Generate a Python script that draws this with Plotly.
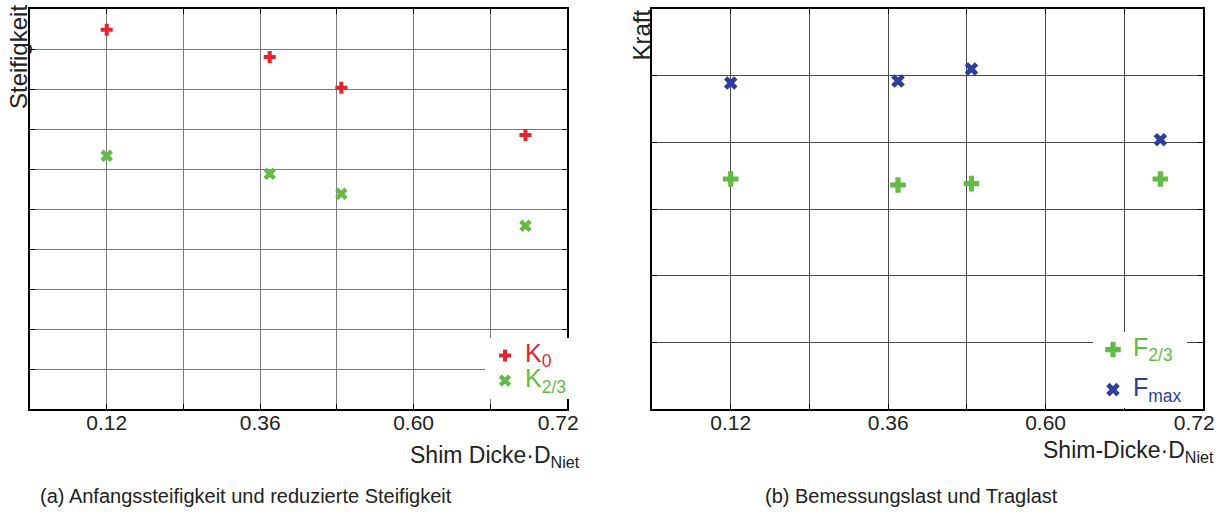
import plotly.graph_objects as go

# ---- data ----
shim = [0.12, 0.375, 0.487, 0.775]          # position on the shim-thickness axis
K0 = [9.48, 8.80, 8.03, 6.85]               # initial stiffness
K23 = [6.33, 5.88, 5.38, 4.58]              # reduced stiffness
F23 = [3.45, 3.36, 3.38, 3.45]              # design load
Fmax = [4.89, 4.92, 5.10, 4.04]             # ultimate load

x_tickvals = [0.12, 0.24, 0.36, 0.48, 0.60, 0.72, 0.84]
x_ticktext = ["0.12", "", "0.36", "", "0.60", "", "0.72\u00a0\u00a0\u00a0"]

RED = "#e3262b"
GREEN = "#63bb47"
BLUE = "#2b3f9b"
FONT = "Liberation Sans, Arial, sans-serif"
TXT = "#222222"

W, H = 1221, 517


def lname(main, sub, color):
    return (f"<span style='color:{color};font-size:25px'>{main}"
            f"<sub>{sub}</sub></span>")


fig = go.Figure()

fig.add_trace(go.Scatter(x=shim, y=K0, mode="markers", name=lname("K", "0", RED),
                         marker=dict(symbol="cross", size=10, color=RED),
                         xaxis="x", yaxis="y", legend="legend", legendgroup="a"))
fig.add_trace(go.Scatter(x=shim, y=K23, mode="markers", name=lname("K", "2/3", GREEN),
                         marker=dict(symbol="x", size=11, color=GREEN),
                         xaxis="x", yaxis="y", legend="legend", legendgroup="b"))
fig.add_trace(go.Scatter(x=shim, y=F23, mode="markers", name=lname("F", "2/3", GREEN),
                         marker=dict(symbol="cross", size=13, color=GREEN),
                         xaxis="x2", yaxis="y2", legend="legend2", legendgroup="c"))
fig.add_trace(go.Scatter(x=shim, y=Fmax, mode="markers", name=lname("F", "max", BLUE),
                         marker=dict(symbol="x", size=12, color=BLUE),
                         xaxis="x2", yaxis="y2", legend="legend2", legendgroup="d"))


def xax(domain, grid):
    return dict(domain=domain, range=[0, 0.84], tickmode="array", tickvals=x_tickvals, ticktext=x_ticktext,
                showgrid=True, gridcolor=grid, gridwidth=1, zeroline=False,
                showline=True, linecolor="black", linewidth=2, mirror="ticks",
                ticks="inside", ticklen=5, tickcolor="black", tickwidth=1, ticklabelstandoff=-6,
                ticklabeloverflow="allow",
                tickfont=dict(family=FONT, size=21, color=TXT), fixedrange=True)


def yax(domain, top, grid, anchor):
    return dict(domain=domain, range=[0, top], tickmode="linear", tick0=0, dtick=1,
                showticklabels=False, showgrid=True, gridcolor=grid, gridwidth=1, zeroline=False,
                showline=True, linecolor="black", linewidth=2, mirror="ticks",
                ticks="inside", ticklen=5, tickcolor="black", tickwidth=1, anchor=anchor, fixedrange=True)


ydom = [(H - 409) / H, (H - 9) / H]

annotations = [
    dict(text="Steifigkeit", textangle=-90, x=18 / W, y=(H - 3) / H, xref="paper", yref="paper",
         xanchor="center", yanchor="top", showarrow=False, font=dict(family=FONT, size=24, color=TXT)),
    dict(text="Kraft", textangle=-90, x=641 / W, y=(H - 8) / H, xref="paper", yref="paper",
         xanchor="center", yanchor="top", showarrow=False, font=dict(family=FONT, size=24, color=TXT)),
    dict(text="Shim Dicke·D<sub>Niet</sub>", x=582 / W, y=(H - 440) / H, xref="paper", yref="paper",
         xanchor="right", yanchor="top", showarrow=False, font=dict(family=FONT, size=23, color=TXT)),
    dict(text="Shim-Dicke·D<sub>Niet</sub>", x=1216 / W, y=(H - 435) / H, xref="paper", yref="paper",
         xanchor="right", yanchor="top", showarrow=False, font=dict(family=FONT, size=23, color=TXT)),
    dict(text="(a) Anfangssteifigkeit und reduzierte Steifigkeit", x=246 / W, y=(H - 496) / H,
         xref="paper", yref="paper", xanchor="center", yanchor="middle", showarrow=False,
         font=dict(family=FONT, size=20, color=TXT)),
    dict(text="(b) Bemessungslast und Traglast", x=911 / W, y=(H - 496) / H,
         xref="paper", yref="paper", xanchor="center", yanchor="middle", showarrow=False,
         font=dict(family=FONT, size=20, color=TXT)),
]

fig.update_layout(
    width=W, height=H, margin=dict(l=0, r=0, t=0, b=0, autoexpand=False),
    paper_bgcolor="white", plot_bgcolor="white",
    xaxis=xax([30 / W, 567 / W], "#7a7a7a"),
    yaxis=yax(ydom, 10, "#7a7a7a", "x"),
    xaxis2=dict(xax([652 / W, 1203 / W], "#4a4a4a"), anchor="y2"),
    yaxis2=yax(ydom, 6, "#4a4a4a", "x2"),
    showlegend=True,
    legend=dict(x=485 / W, y=(H - 338) / H, xanchor="left", yanchor="top", bgcolor="white",
                font=dict(family=FONT, size=17), tracegroupgap=0, itemwidth=30),
    legend2=dict(x=1093 / W, y=(H - 332) / H, xanchor="left", yanchor="top", bgcolor="white",
                 font=dict(family=FONT, size=17), tracegroupgap=15, itemwidth=30),
    annotations=annotations,
)

fig.write_html("out.html")
